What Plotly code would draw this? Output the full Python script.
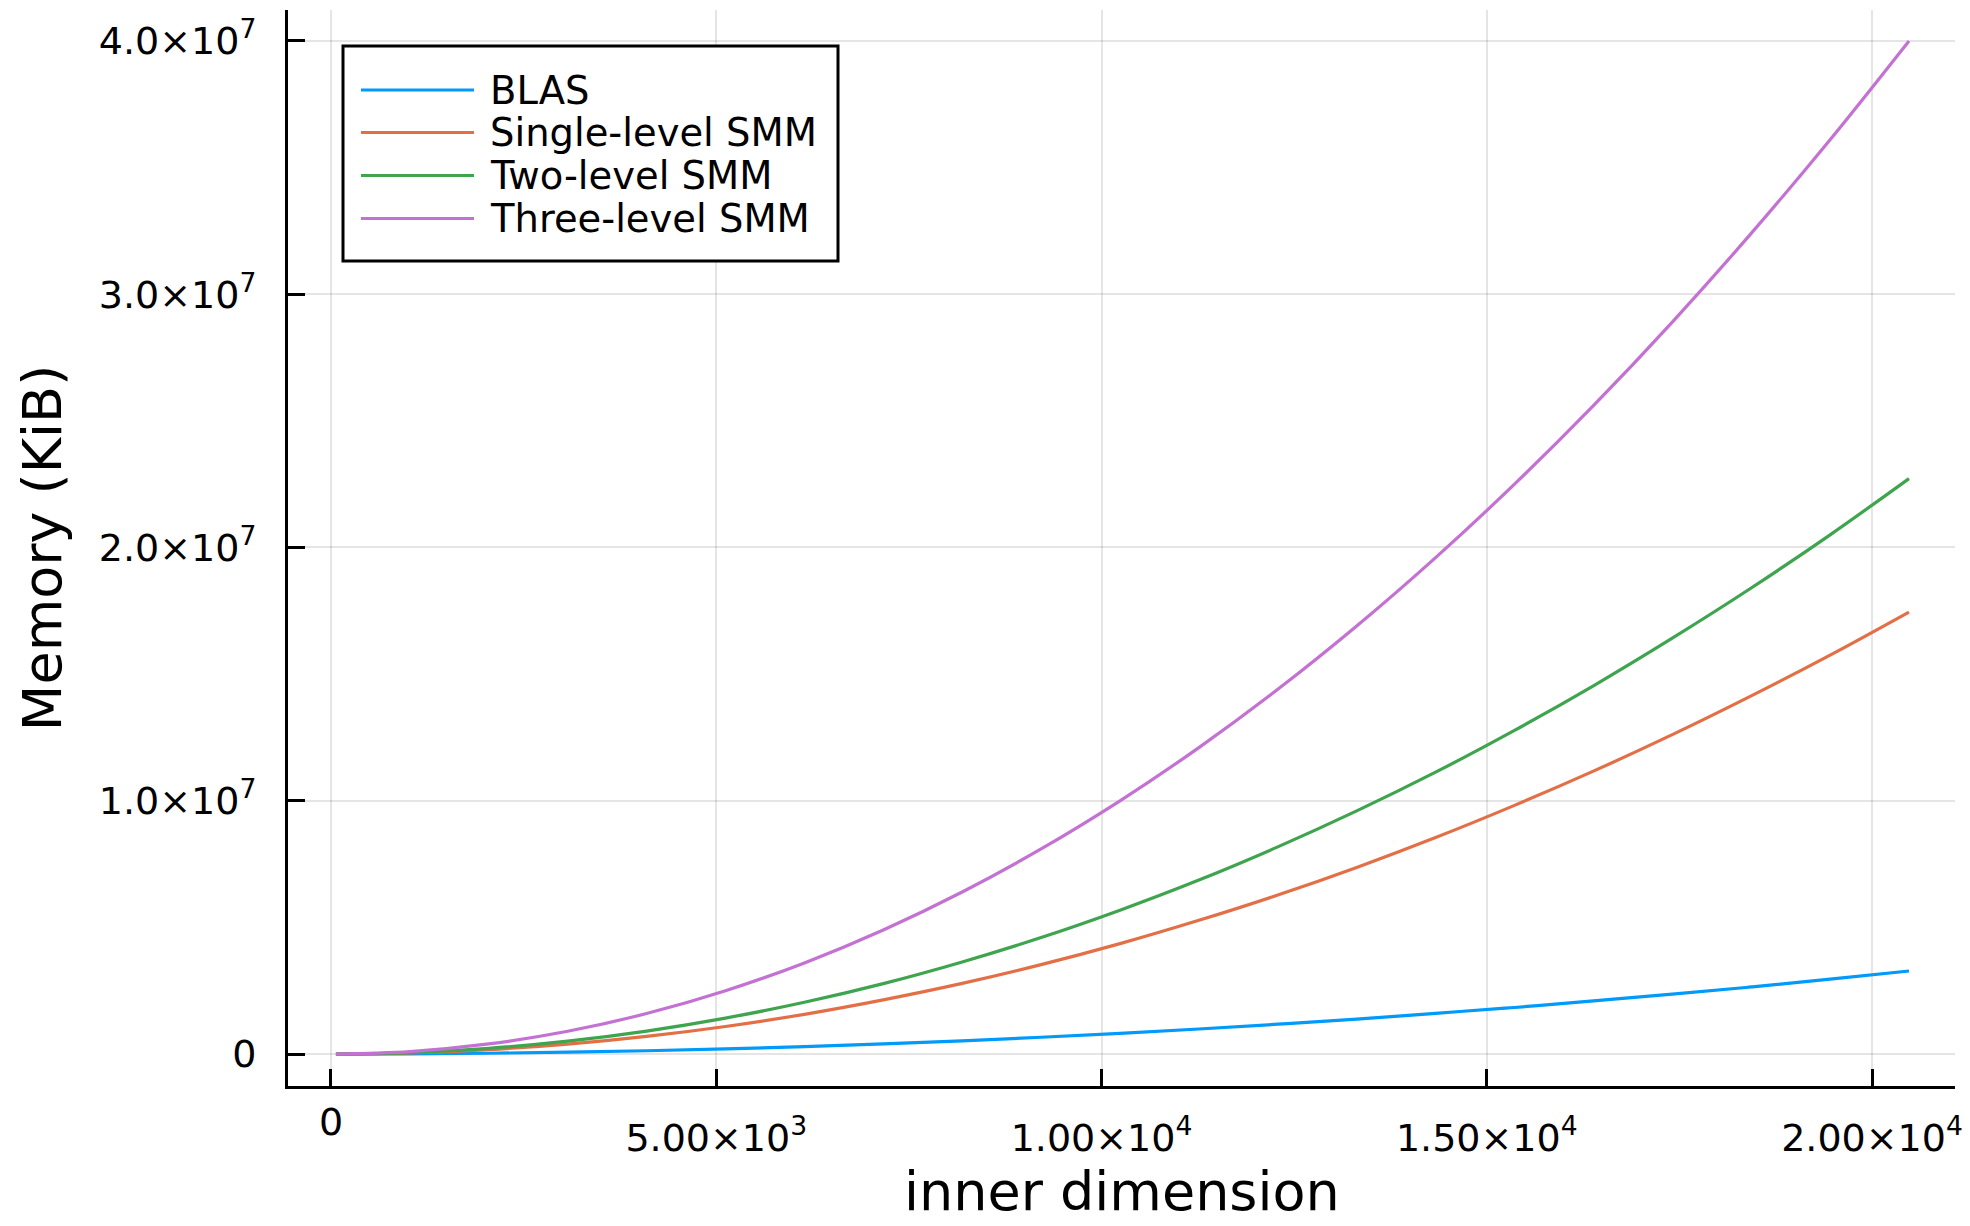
import plotly.graph_objects as go

# ---- data ----
inner_dim = [64, 1024, 2048, 3072, 4096, 5120, 6144, 7168, 8192, 9216, 10240,
             11264, 12288, 13312, 14336, 15360, 16384, 17408, 18432, 19456, 20480]
blas = [0, 8.0e3, 3.3e4, 7.4e4, 1.31e5, 2.05e5, 2.95e5, 4.01e5, 5.24e5, 6.64e5, 8.19e5,
        9.91e5, 1.18e6, 1.38e6, 1.61e6, 1.84e6, 2.10e6, 2.37e6, 2.65e6, 2.96e6, 3.28e6]
single_smm = [0, 4.4e4, 1.75e5, 3.93e5, 6.98e5, 1.09e6, 1.57e6, 2.14e6, 2.79e6, 3.53e6, 4.36e6,
              5.28e6, 6.28e6, 7.37e6, 8.55e6, 9.82e6, 1.117e7, 1.261e7, 1.414e7, 1.575e7, 1.745e7]
two_smm = [0, 5.7e4, 2.27e5, 5.11e5, 9.09e5, 1.42e6, 2.045e6, 2.78e6, 3.635e6, 4.60e6, 5.68e6,
           6.87e6, 8.18e6, 9.60e6, 1.113e7, 1.278e7, 1.454e7, 1.642e7, 1.840e7, 2.050e7, 2.272e7]
three_smm = [0, 1.0e5, 4.0e5, 9.0e5, 1.6e6, 2.5e6, 3.6e6, 4.9e6, 6.4e6, 8.1e6, 1.0e7,
             1.21e7, 1.44e7, 1.69e7, 1.96e7, 2.25e7, 2.56e7, 2.89e7, 3.24e7, 3.61e7, 4.0e7]

series_names = ["BLAS", "Single-level SMM", "Two-level SMM", "Three-level SMM"]
series_colors = ["#009AFA", "#E36F47", "#3EA44E", "#C371D2"]

x_tickvals = [0, 5000, 10000, 15000, 20000]
x_ticktext = ["", "5.00×10<sup>3</sup>", "1.00×10<sup>4</sup>", "1.50×10<sup>4</sup>", "2.00×10<sup>4</sup>"]
x_zero_label = "0"
y_tickvals = [0, 1e7, 2e7, 3e7, 4e7]
y_ticktext = ["0", "1.0×10<sup>7</sup>", "2.0×10<sup>7</sup>", "3.0×10<sup>7</sup>", "4.0×10<sup>7</sup>"]
x_title = "inner dimension"
y_title = "Memory (KiB)"

FONT = "DejaVu Sans"
TICK_SIZE = 38
LEGEND_SIZE = 38.5

fig = go.Figure()
for name, ys, col in zip(series_names, [blas, single_smm, two_smm, three_smm], series_colors):
    fig.add_trace(go.Scatter(
        x=inner_dim, y=ys, mode="lines", name=name, showlegend=False,
        line=dict(color=col, width=3.2, shape="spline", smoothing=1.0),
    ))

axis_common = dict(
    showline=True, linecolor="black", linewidth=3,
    ticks="inside", ticklen=17, tickwidth=3, tickcolor="black",
    showgrid=True, gridcolor="rgba(0,0,0,0.10)", gridwidth=1.5,
    zeroline=False, mirror=False,
    tickfont=dict(family=FONT, size=TICK_SIZE, color="black"),
    automargin=False,
)

# ---- legend box (layout decoration, in plot-area fractions) ----
PLOT_L, PLOT_R, PLOT_T, PLOT_B = 288, 1955, 10, 1086   # plot area on the page
def px(xp):
    return (xp - PLOT_L) / (PLOT_R - PLOT_L)
def py(yp):
    return (PLOT_B - yp) / (PLOT_B - PLOT_T)

leg_box = (343, 46, 838, 261)
leg_line_x = (361, 474)
leg_text_x = 488
leg_rows = [90, 132.5, 175.5, 218.5]

shapes = [dict(type="rect", xref="paper", yref="paper",
               x0=px(leg_box[0]), x1=px(leg_box[2]), y0=py(leg_box[3]), y1=py(leg_box[1]),
               line=dict(color="black", width=3), fillcolor="white", layer="above")]
annotations = []
for name, col, ry in zip(series_names, series_colors, leg_rows):
    shapes.append(dict(type="line", xref="paper", yref="paper",
                       x0=px(leg_line_x[0]), x1=px(leg_line_x[1]), y0=py(ry), y1=py(ry),
                       line=dict(color=col, width=3.2), layer="above"))
    annotations.append(dict(x=px(leg_text_x), y=py(ry), xref="paper", yref="paper",
                            text=name, showarrow=False, xanchor="left", yanchor="middle",
                            font=dict(family=FONT, size=LEGEND_SIZE, color="black")))

annotations.append(dict(
    x=0, xref="x", y=py(1122), yref="paper", text=x_zero_label, showarrow=False,
    xanchor="center", yanchor="middle", font=dict(family=FONT, size=TICK_SIZE, color="black"),
))
# x-axis title, kept fully inside the page
annotations.append(dict(
    x=0.5, xref="paper", y=py(1191), yref="paper", text=x_title, showarrow=False,
    xanchor="center", yanchor="middle", font=dict(family=FONT, size=54, color="black"),
))

# page body has an 8px margin: compensate so the plot area lands where the reference has it
fig.update_layout(
    width=1962, height=1218,
    paper_bgcolor="white", plot_bgcolor="white",
    margin=dict(l=280, r=15, t=2, b=140),
    font=dict(family=FONT, color="black"),
    showlegend=False,
    xaxis=dict(
        range=[-558, 21077], tickmode="array", tickvals=x_tickvals, ticktext=x_ticktext,
        ticklabelstandoff=16,
        **axis_common,
    ),
    yaxis=dict(
        range=[-1.26e6, 4.122e7], tickmode="array", tickvals=y_tickvals, ticktext=y_ticktext,
        ticklabelstandoff=21,
        title=dict(text=y_title, font=dict(family=FONT, size=54), standoff=20),
        **axis_common,
    ),
    shapes=shapes,
    annotations=annotations,
)

fig.write_html("out.html")
